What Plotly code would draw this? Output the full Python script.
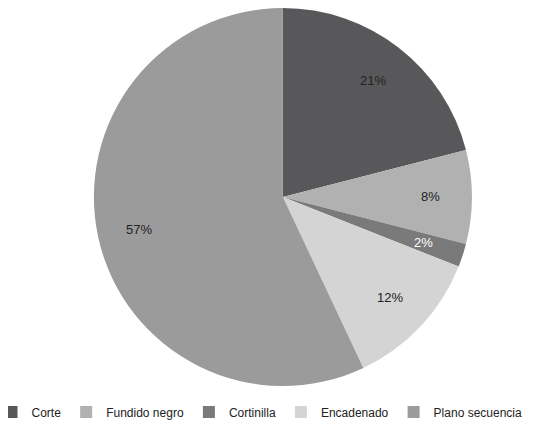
import math
import plotly.graph_objects as go

labels = ["Corte", "Fundido negro", "Cortinilla", "Encadenado", "Plano secuencia"]
values = [21, 8, 2, 12, 57]
colors = ["#58585a", "#b1b1b1", "#7a7a7a", "#d4d4d4", "#9b9b9b"]
text_colors = ["#222222", "#222222", "#ffffff", "#222222", "#222222"]

FONT = "Liberation Sans, Arial, sans-serif"
W, H = 550, 426
MARGIN_B = 30
DOM_X = [0.156, 0.8436]
DOM_Y = [0.0455, 1.0]
LABEL_RADIUS = 0.78  # fraction of the pie radius where percentage labels sit

fig = go.Figure(go.Pie(
    labels=labels,
    values=values,
    sort=False,
    direction="clockwise",
    rotation=0,
    marker=dict(colors=colors, line=dict(width=0)),
    textinfo="none",
    domain=dict(x=DOM_X, y=DOM_Y),
    hoverinfo="label+percent",
))

# Percentage labels placed along each slice's bisector
plot_w, plot_h = W, H - MARGIN_B
r_px = min((DOM_X[1] - DOM_X[0]) * plot_w, (DOM_Y[1] - DOM_Y[0]) * plot_h) / 2
cx = (DOM_X[0] + DOM_X[1]) / 2
cy = (DOM_Y[0] + DOM_Y[1]) / 2
total = sum(values)
cum = 0
for v, tc in zip(values, text_colors):
    mid = (cum + v / 2) / total * 2 * math.pi
    cum += v
    x = cx + LABEL_RADIUS * r_px * math.sin(mid) / plot_w
    y = cy + LABEL_RADIUS * r_px * math.cos(mid) / plot_h
    fig.add_annotation(
        x=x, y=y, xref="paper", yref="paper",
        xanchor="center", yanchor="middle",
        text=f"{round(v / total * 100)}%",
        showarrow=False,
        font=dict(size=13, color=tc, family=FONT),
    )

fig.update_layout(
    width=W, height=H,
    margin=dict(l=0, r=0, t=0, b=MARGIN_B, autoexpand=False),
    paper_bgcolor="white",
    plot_bgcolor="white",
    font=dict(family=FONT, size=12, color="#222222"),
    showlegend=True,
    legend=dict(
        orientation="h",
        x=-0.03, xanchor="left",
        y=-0.02, yanchor="middle",
        font=dict(size=12),
        itemwidth=30,
        traceorder="normal",
    ),
)

fig.write_html("out.html")
